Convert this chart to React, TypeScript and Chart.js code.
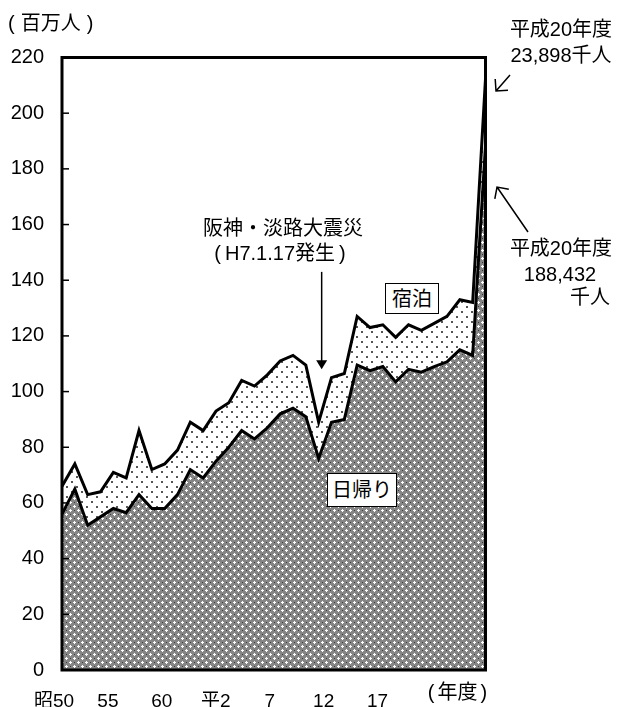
import React, { useEffect, useRef } from 'react';
import { Chart, registerables } from 'chart.js';

Chart.register(...registerables);

// Fiscal years 昭50 (1975) .. 平20 (2008)
const years = [
  '昭50', '昭51', '昭52', '昭53', '昭54', '昭55', '昭56', '昭57', '昭58', '昭59',
  '昭60', '昭61', '昭62', '昭63', '平1', '平2', '平3', '平4', '平5', '平6',
  '平7', '平8', '平9', '平10', '平11', '平12', '平13', '平14', '平15', '平16',
  '平17', '平18', '平19', '平20',
];

// 日帰り (day trips), millions
const dayTrips = [
  56, 65, 52, 55, 58, 56.5, 63, 58, 58, 63,
  72, 69, 75, 80, 86, 83, 87, 92, 94, 91,
  76, 89, 90, 109.5, 107.5, 109, 103.5, 108, 107, 109,
  110.7, 115, 113, 188.4,
];

// 宿泊 (overnight), millions
const overnight = [
  10, 9, 11, 9, 13, 12.5, 23, 14, 16, 16,
  17, 17, 18, 16, 18, 19, 19, 19, 19, 18.5,
  13, 16, 16.5, 17.5, 15.5, 15, 16, 16, 15, 15.5,
  16.3, 18, 19, 23.9,
];

const xTickValues = [0, 5, 10, 15, 20, 25, 30];
const xTickLabels = ['昭50', '55', '60', '平2', '7', '12', '17'];
const yMin = 0;
const yMax = 220;
const yStep = 20;

const FONT = "'Liberation Sans', 'Noto Sans CJK JP', sans-serif";

function makeCrossPattern(): CanvasPattern | string {
  const c = document.createElement('canvas');
  c.width = 8;
  c.height = 8;
  const g = c.getContext('2d');
  if (!g) return '#888';
  g.fillStyle = '#868686';
  g.fillRect(0, 0, 8, 8);
  g.fillStyle = '#fff';
  const plus = (x: number, y: number) => {
    [[0, 0], [1, 0], [-1, 0], [0, 1], [0, -1]].forEach(([dx, dy]) =>
      g.fillRect((x + dx + 8) % 8, (y + dy + 8) % 8, 1, 1)
    );
  };
  plus(2, 2);
  plus(6, 6);
  g.fillStyle = '#3a3a3a';
  g.fillRect(6, 2, 1, 1);
  g.fillRect(2, 6, 1, 1);
  return g.createPattern(c, 'repeat') || '#888';
}

function makeDotPattern(): CanvasPattern | string {
  const c = document.createElement('canvas');
  c.width = 10;
  c.height = 10;
  const g = c.getContext('2d');
  if (!g) return '#eee';
  g.fillStyle = '#fff';
  g.fillRect(0, 0, 10, 10);
  g.fillStyle = '#555';
  g.fillRect(1, 1, 2, 2);
  g.fillRect(6, 6, 2, 2);
  return g.createPattern(c, 'repeat') || '#eee';
}

function openArrow(ctx: CanvasRenderingContext2D, x0: number, y0: number, x1: number, y1: number) {
  const a = Math.atan2(y1 - y0, x1 - x0);
  const h = 12;
  ctx.beginPath();
  ctx.moveTo(x0, y0);
  ctx.lineTo(x1, y1);
  ctx.moveTo(x1 - h * Math.cos(a - Math.PI / 4), y1 - h * Math.sin(a - Math.PI / 4));
  ctx.lineTo(x1, y1);
  ctx.lineTo(x1 - h * Math.cos(a + Math.PI / 4), y1 - h * Math.sin(a + Math.PI / 4));
  ctx.stroke();
}

const framePlugin = {
  id: 'frame',
  afterDraw(chart: any) {
    const { ctx, chartArea } = chart;
    const { left, top, right, bottom } = chartArea;
    const y = chart.scales.y;
    const x = chart.scales.x;
    ctx.save();
    ctx.strokeStyle = '#000';
    ctx.fillStyle = '#000';
    ctx.lineWidth = 1.5;
    y.ticks.forEach((t: any) => {
      const py = y.getPixelForValue(t.value);
      ctx.beginPath();
      ctx.moveTo(left, py);
      ctx.lineTo(left + 7, py);
      ctx.stroke();
    });
    ctx.lineWidth = 3;
    ctx.strokeRect(left, top, right - left, bottom - top);

    // earthquake arrow (H7)
    const ax = x.getPixelForValue(20) + 3;
    const ay0 = y.getPixelForValue(143);
    const ay1 = y.getPixelForValue(108);
    ctx.lineWidth = 1.5;
    ctx.beginPath();
    ctx.moveTo(ax, ay0);
    ctx.lineTo(ax, ay1 - 8);
    ctx.stroke();
    ctx.beginPath();
    ctx.moveTo(ax - 5.5, ay1 - 9);
    ctx.lineTo(ax + 5.5, ay1 - 9);
    ctx.lineTo(ax, ay1);
    ctx.closePath();
    ctx.fill();

    // right-hand arrows
    openArrow(ctx, 510, 75, 496, 91);
    openArrow(ctx, 528, 232, 497, 187);
    ctx.restore();
  },
};

const T = ({ x, y, children, size = 20, anchor = 'center' }: any) => (
  <div
    style={{
      position: 'absolute',
      left: x,
      top: y,
      transform: `translate(${anchor === 'center' ? '-50%' : anchor === 'right' ? '-100%' : '0'}, -50%)`,
      fontSize: size,
      lineHeight: 1,
      whiteSpace: 'nowrap',
      color: '#000',
    }}
  >
    {children}
  </div>
);

const Box = ({ left, top, width, height, children, size = 20 }: any) => (
  <div
    style={{
      position: 'absolute',
      left,
      top,
      width,
      height,
      boxSizing: 'border-box',
      border: '1.5px solid #000',
      background: '#fff',
      display: 'flex',
      alignItems: 'center',
      justifyContent: 'center',
      fontSize: size,
      lineHeight: 1,
      color: '#000',
    }}
  >
    {children}
  </div>
);

export default function App() {
  const ref = useRef<HTMLCanvasElement>(null);

  useEffect(() => {
    if (!ref.current) return;
    const chart = new Chart(ref.current, {
      type: 'line',
      data: {
        labels: years,
        datasets: [
          {
            label: '日帰り',
            data: dayTrips,
            borderColor: '#000',
            borderWidth: 3,
            backgroundColor: makeCrossPattern() as any,
            fill: 'origin',
            pointRadius: 0,
            tension: 0,
          },
          {
            label: '宿泊',
            data: overnight,
            borderColor: '#000',
            borderWidth: 3,
            backgroundColor: makeDotPattern() as any,
            fill: '-1',
            pointRadius: 0,
            tension: 0,
          },
        ],
      },
      options: {
        animation: false,
        responsive: false,
        devicePixelRatio: 1,
        layout: { padding: { top: 57.5, right: 132.5, left: 0, bottom: 0 } },
        plugins: { legend: { display: false }, tooltip: { enabled: false } },
        scales: {
          x: { type: 'category', display: false, offset: false },
          x2: {
            type: 'linear',
            position: 'bottom',
            min: 0,
            max: 424 / 10.8,
            afterBuildTicks: (s: any) => {
              s.ticks = xTickValues.map((v) => ({ value: v }));
            },
            afterFit: (s: any) => {
              s.height = 37;
            },
            ticks: {
              autoSkip: false,
              maxRotation: 0,
              color: '#000',
              font: { family: FONT, size: 19 },
              padding: 20,
              labelOffset: -8,
              callback: (_v: any, i: number) => xTickLabels[i],
            },
            grid: { display: false, drawTicks: false },
            border: { display: false },
          },
          y: {
            type: 'linear',
            stacked: true,
            min: yMin,
            max: yMax,
            afterFit: (s: any) => {
              s.width = 62;
            },
            ticks: {
              stepSize: yStep,
              color: '#000',
              font: { family: FONT, size: 20 },
              padding: 18,
            },
            grid: { display: false, drawTicks: false },
            border: { display: false },
          },
        },
      } as any,
      plugins: [framePlugin],
    });
    return () => chart.destroy();
  }, []);

  return (
    <div
      style={{
        position: 'absolute',
        left: 0,
        top: 0,
        width: 618,
        height: 707,
        overflow: 'hidden',
        background: '#fff',
        fontFamily: FONT,
      }}
    >
      <canvas ref={ref} width={618} height={707} style={{ position: 'absolute', left: 0, top: 0, width: 618, height: 707 }} />
      <T x={8} y={22.5} anchor="left">
        <span style={{ marginRight: 6 }}>(</span>百万人<span style={{ marginLeft: 6 }}>)</span>
      </T>
      <T x={561} y={29}>平成20年度</T>
      <T x={561} y={55}>23,898千人</T>
      <T x={561} y={247.5}>平成20年度</T>
      <T x={560} y={273.5}>188,432</T>
      <T x={590} y={297}>千人</T>
      <T x={283} y={227.5}>阪神・淡路大震災</T>
      <T x={280} y={253}>
        <span style={{ marginRight: 4 }}>(</span>H7.1.17発生<span style={{ marginLeft: 4 }}>)</span>
      </T>
      <T x={457.5} y={692}>
        <span style={{ marginRight: 3 }}>(</span>年度<span style={{ marginLeft: 3 }}>)</span>
      </T>
      <Box left={385} top={283} width={54} height={31}>宿泊</Box>
      <Box left={327} top={473} width={70} height={34}>日帰り</Box>
    </div>
  );
}
